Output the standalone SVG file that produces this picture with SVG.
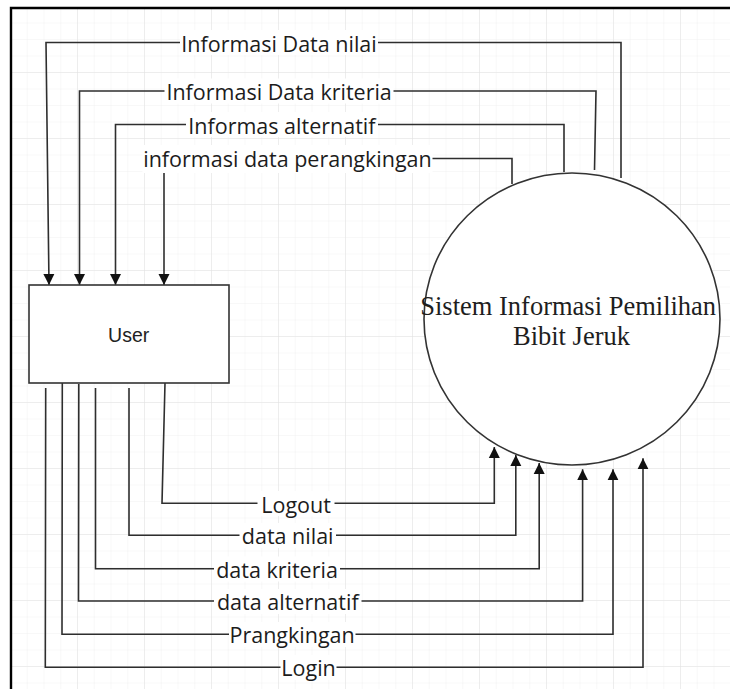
<svg xmlns="http://www.w3.org/2000/svg" width="730" height="689" viewBox="0 0 730 689">
  <defs>
    <pattern id="minor" patternUnits="userSpaceOnUse" x="11" y="7" width="16.75" height="16.5">
      <path d="M16.75 0V16.5M0 16.5H16.75" fill="none" stroke="#f1f1f1" stroke-width="1"/>
    </pattern>
    <pattern id="major" patternUnits="userSpaceOnUse" x="11" y="7" width="67" height="66">
      <path d="M67 0V66M0 66H67" fill="none" stroke="#e2e2e2" stroke-width="1"/>
    </pattern>
    <marker id="arr" markerUnits="userSpaceOnUse" markerWidth="12" markerHeight="12" viewBox="0 0 12 12" refX="11" refY="6" orient="auto">
      <path d="M0 0.5L11 6L0 11.5Z" fill="#111"/>
    </marker>
  </defs>
  <style>
    .edge { fill: none; stroke: #2e2e2e; stroke-width: 1.6; marker-end: url(#arr); }
    .lbg { fill: #ffffff; }
    .lbl { font-family: "Open Sans", "Noto Sans", sans-serif; font-size: 21.5px; fill: #1c1c1c; text-anchor: middle; }
    .shape { fill: #ffffff; stroke: #333333; stroke-width: 1.6; }
  </style>

  <rect x="0" y="0" width="730" height="689" fill="#ffffff"/>
  <rect x="11" y="8" width="719" height="681" fill="url(#minor)"/>
  <rect x="11" y="8" width="719" height="681" fill="url(#major)"/>
  <path d="M11 689V8H730" fill="none" stroke="#000" stroke-width="2.4"/>

  <g id="connectors">
    <!-- top flows: system to user -->
    <polyline class="edge" points="621,178 621,42.5 46,42.5 49,285"/>
    <polyline class="edge" points="594.5,170 596,91 79.5,91 79.5,285"/>
    <polyline class="edge" points="564,172 564,124.5 115.5,124.5 115.5,285"/>
    <polyline class="edge" points="512,184 512,158.5 164,158.5 164,285"/>
    <!-- bottom flows: user to system -->
    <polyline class="edge" points="165,383 162,503.3 494.3,503.3 494.3,447"/>
    <polyline class="edge" points="129,388 129,535.3 515.8,535.3 515.8,455"/>
    <polyline class="edge" points="95.5,388 95.5,568.7 539.2,568.7 539.2,463"/>
    <polyline class="edge" points="78.8,384 78.5,601 582.6,601 582.6,469.3"/>
    <polyline class="edge" points="62.3,381 62,634.3 613,634.3 613,469.3"/>
    <polyline class="edge" points="45.7,388 45.3,667.3 643,667.3 643,458.3"/>

    <!-- labels -->
    <rect class="lbg" x="180" y="30" width="198" height="25"/>
    <text class="lbl" x="279" y="51.5">Informasi Data nilai</text>
    <rect class="lbg" x="164.5" y="78.5" width="229" height="25"/>
    <text class="lbl" x="279.1" y="100">Informasi Data kriteria</text>
    <rect class="lbg" x="186" y="112" width="192" height="25"/>
    <text class="lbl" x="281.9" y="133.5">Informas alternatif</text>
    <rect class="lbg" x="142.5" y="145" width="290" height="28"/>
    <text class="lbl" x="287.5" y="167.3">informasi data perangkingan</text>

    <rect class="lbg" x="257.5" y="491" width="77" height="25"/>
    <text class="lbl" x="296.1" y="512.5">Logout</text>
    <rect class="lbg" x="239.5" y="523" width="96.5" height="25"/>
    <text class="lbl" x="287.7" y="544.3">data nilai</text>
    <rect class="lbg" x="214" y="556.5" width="126" height="25"/>
    <text class="lbl" x="277" y="577.7">data kriteria</text>
    <rect class="lbg" x="214" y="589" width="147.5" height="25"/>
    <text class="lbl" x="287.8" y="610">data alternatif</text>
    <rect class="lbg" x="229" y="622" width="126.5" height="25"/>
    <text class="lbl" x="292.1" y="643.3">Prangkingan</text>
    <rect class="lbg" x="280.5" y="655" width="56" height="25"/>
    <text class="lbl" x="308.6" y="676.3">Login</text>
  </g>

  <g id="user">
    <rect class="shape" x="29" y="285" width="200" height="98"/>
    <text x="128.7" y="342.3" font-family="'Liberation Sans', Arial, sans-serif" font-size="19.5" fill="#222" text-anchor="middle">User</text>
  </g>

  <g id="sistem">
    <ellipse class="shape" cx="572" cy="319" rx="148" ry="146"/>
    <text font-family="'Liberation Serif', 'Times New Roman', serif" font-size="26.5" fill="#1e1e1e" text-anchor="middle">
      <tspan x="571.5" y="315">Sistem Informasi Pemilihan</tspan>
      <tspan x="571.5" y="345">Bibit Jeruk</tspan>
    </text>
  </g>
</svg>
